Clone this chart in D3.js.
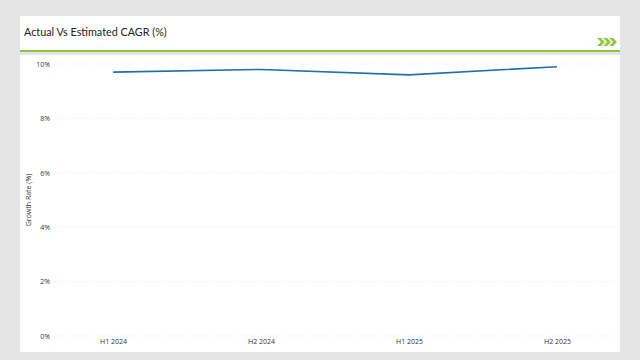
<!DOCTYPE html>
<html><head><meta charset="utf-8">
<script src="https://cdn.jsdelivr.net/npm/d3@7"></script>
<style>
html,body{margin:0;padding:0;background:#e5e5e5;}
svg{display:block;font-family:"Open Sans","Liberation Sans",sans-serif;}
</style></head>
<body><svg id="c" width="640" height="360"></svg>
<script>
const categories = ["H1 2024", "H2 2024", "H1 2025", "H2 2025"];
const growthValues = [9.7, 9.8, 9.6, 9.9];
const yTicks = [0, 2, 4, 6, 8, 10];
const titleText = "Actual Vs Estimated CAGR (%)";
const yLabel = "Growth Rate (%)";

const svg = d3.select("#c");
svg.append("rect").attr("x",0).attr("y",0).attr("width",640).attr("height",360).attr("fill","#e5e5e5");
// title panel
svg.append("rect").attr("x",20).attr("y",16).attr("width",600).attr("height",35).attr("fill","#fff");
svg.append("rect").attr("x",20).attr("y",50).attr("width",600).attr("height",2).attr("fill","#8dc63f");
svg.append("text").attr("x",24).attr("y",36).attr("font-size",10.8).attr("font-weight",400)
  .attr("font-family","Lato, sans-serif").attr("fill","#222").text(titleText);
// chevrons
const chev = svg.append("g").attr("fill","#8dc63f");
[0,6,12].forEach(dx=>{
  chev.append("path").attr("d",`M${597+dx},38 L${601+dx},38 L${605+dx},42 L${601+dx},46 L${597+dx},46 L${601+dx},42 Z`);
});
// chart panel
svg.append("rect").attr("x",20).attr("y",55).attr("width",600).attr("height",297).attr("fill","#fff");

const y = d3.scaleLinear().domain([0,10]).range([336,64]);
const x = d3.scalePoint().domain(categories).range([113,557]);

// grid
svg.append("g").selectAll("line").data(yTicks).join("line")
  .attr("x1",54).attr("x2",615).attr("y1",d=>y(d)).attr("y2",d=>y(d))
  .attr("stroke","#dcdcdc").attr("stroke-width",0.6).attr("stroke-dasharray","1,2");

const yAxis = svg.append("g").attr("transform","translate(50,0)")
  .call(d3.axisLeft(y).tickValues(yTicks).tickSize(0).tickFormat(d=>d+"%"));
yAxis.select(".domain").remove();
yAxis.selectAll("text").attr("font-size",7).attr("fill","#333").attr("x",0).attr("font-family","Open Sans, Liberation Sans, sans-serif");

const xAxis = svg.append("g").attr("transform","translate(0,339)")
  .call(d3.axisBottom(x).tickSize(0));
xAxis.select(".domain").remove();
xAxis.selectAll("text").attr("font-size",7).attr("fill","#333").attr("dy","0.71em").attr("y",0).attr("font-family","Open Sans, Liberation Sans, sans-serif");

svg.append("text").attr("transform","translate(31,200) rotate(-90)").attr("text-anchor","middle")
  .attr("font-size",7).attr("fill","#333").text(yLabel);

const line = d3.line().x((d,i)=>x(categories[i])).y(d=>y(d));
svg.append("path").datum(growthValues).attr("d",line).attr("fill","none")
  .attr("stroke","#1f6fb2").attr("stroke-width",1.6);
</script></body></html>
